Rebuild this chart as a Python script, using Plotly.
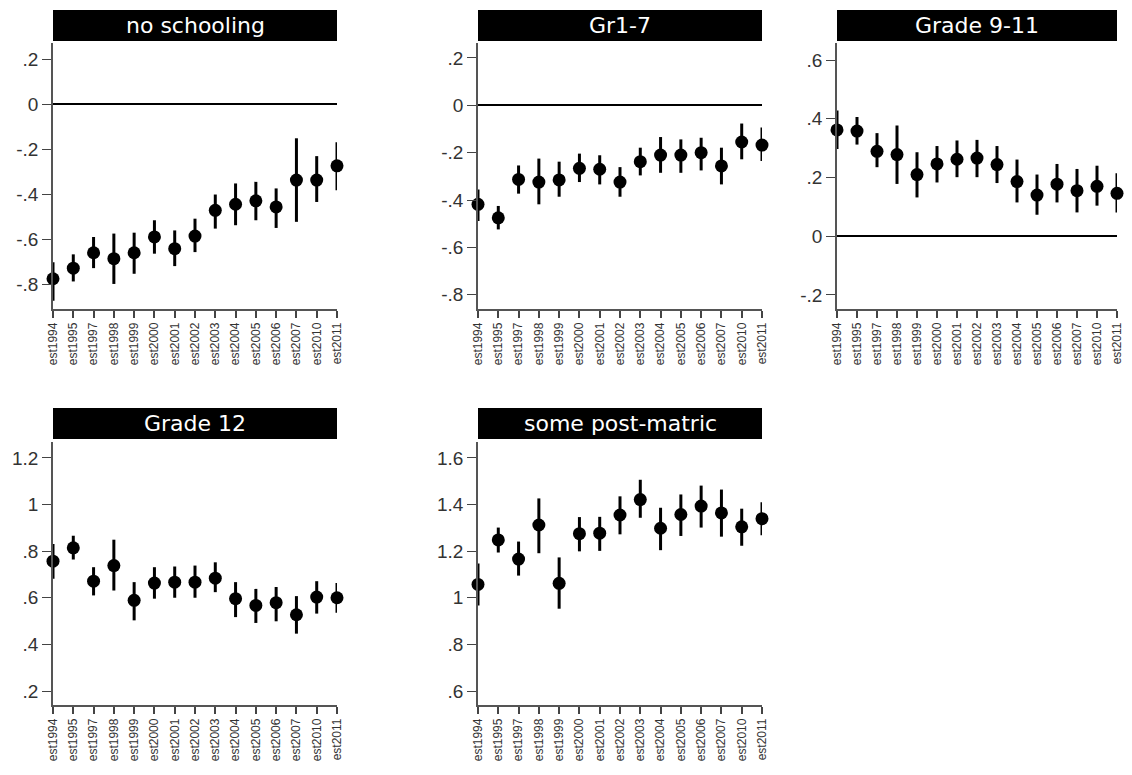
import plotly.graph_objects as go

# the page body has an 8px margin; the figure is sized to fit inside it
OFF = 8
W, H = 1132 - 2 * OFF, 775 - 2 * OFF

categories = ["est1994", "est1995", "est1997", "est1998", "est1999", "est2000", "est2001",
              "est2002", "est2003", "est2004", "est2005", "est2006", "est2007", "est2010", "est2011"]

panel_titles = ["no schooling", "Gr1-7", "Grade 9-11", "Grade 12", "some post-matric"]

# point estimates and confidence bounds
noschool_est = [-0.773, -0.726, -0.658, -0.684, -0.658, -0.588, -0.640, -0.584, -0.470, -0.443, -0.428, -0.455, -0.336, -0.336, -0.273]
noschool_lo  = [-0.870, -0.785, -0.726, -0.796, -0.751, -0.662, -0.717, -0.655, -0.551, -0.536, -0.514, -0.548, -0.521, -0.433, -0.381]
noschool_hi  = [-0.700, -0.665, -0.588, -0.573, -0.569, -0.514, -0.559, -0.507, -0.400, -0.351, -0.344, -0.373, -0.151, -0.230, -0.169]

gr17_est = [-0.418, -0.475, -0.313, -0.324, -0.315, -0.266, -0.270, -0.324, -0.238, -0.210, -0.210, -0.200, -0.256, -0.155, -0.168]
gr17_lo  = [-0.489, -0.524, -0.373, -0.418, -0.386, -0.324, -0.334, -0.386, -0.296, -0.285, -0.285, -0.275, -0.334, -0.228, -0.235]
gr17_hi  = [-0.355, -0.425, -0.254, -0.225, -0.238, -0.204, -0.211, -0.261, -0.179, -0.134, -0.144, -0.137, -0.179, -0.077, -0.094]

g911_est = [0.362, 0.358, 0.289, 0.278, 0.210, 0.246, 0.262, 0.266, 0.244, 0.186, 0.140, 0.177, 0.155, 0.170, 0.146]
g911_lo  = [0.297, 0.312, 0.235, 0.178, 0.132, 0.183, 0.201, 0.201, 0.181, 0.115, 0.073, 0.115, 0.081, 0.104, 0.081]
g911_hi  = [0.428, 0.406, 0.351, 0.377, 0.286, 0.307, 0.326, 0.328, 0.307, 0.261, 0.210, 0.246, 0.229, 0.240, 0.214]

g12_est = [0.757, 0.814, 0.671, 0.738, 0.589, 0.663, 0.667, 0.667, 0.684, 0.596, 0.567, 0.579, 0.527, 0.603, 0.600]
g12_lo  = [0.681, 0.764, 0.610, 0.631, 0.503, 0.596, 0.600, 0.600, 0.624, 0.517, 0.492, 0.499, 0.446, 0.532, 0.536]
g12_hi  = [0.831, 0.866, 0.731, 0.849, 0.667, 0.731, 0.734, 0.738, 0.752, 0.667, 0.638, 0.646, 0.607, 0.671, 0.663]

post_est = [1.057, 1.248, 1.166, 1.312, 1.062, 1.275, 1.277, 1.355, 1.421, 1.298, 1.357, 1.393, 1.364, 1.304, 1.339]
post_lo  = [0.967, 1.194, 1.095, 1.191, 0.953, 1.199, 1.201, 1.272, 1.343, 1.204, 1.265, 1.301, 1.262, 1.223, 1.268]
post_hi  = [1.147, 1.301, 1.241, 1.426, 1.173, 1.346, 1.347, 1.435, 1.506, 1.386, 1.443, 1.481, 1.464, 1.382, 1.410]

y_ranges = [[-0.907, 0.271], [-0.86, 0.263], [-0.248, 0.658], [0.14, 1.268], [0.54, 1.668]]
y_ticks = [
    ([0.2, 0, -0.2, -0.4, -0.6, -0.8], [".2", "0", "-.2", "-.4", "-.6", "-.8"]),
    ([0.2, 0, -0.2, -0.4, -0.6, -0.8], [".2", "0", "-.2", "-.4", "-.6", "-.8"]),
    ([0.6, 0.4, 0.2, 0, -0.2], [".6", ".4", ".2", "0", "-.2"]),
    ([1.2, 1.0, 0.8, 0.6, 0.4, 0.2], ["1.2", "1", ".8", ".6", ".4", ".2"]),
    ([1.6, 1.4, 1.2, 1.0, 0.8, 0.6], ["1.6", "1.4", "1.2", "1", ".8", ".6"]),
]

series = [
    (noschool_est, noschool_lo, noschool_hi),
    (gr17_est, gr17_lo, gr17_hi),
    (g911_est, g911_lo, g911_hi),
    (g12_est, g12_lo, g12_hi),
    (post_est, post_lo, post_hi),
]

# panel pixel boxes on the page: (x0, x1, plot_top, plot_bottom, title_top, title_bottom)
boxes = [
    (53, 337, 43, 309, 10, 41),
    (478, 762, 43, 309, 10, 41),
    (837, 1117, 43, 309, 10, 41),
    (53, 337, 442, 705, 408, 439),
    (478, 762, 442, 705, 408, 439),
]


def px(v):
    return (v - OFF) / W


def py(v):
    return 1 - (v - OFF) / H


fig = go.Figure()
layout = dict(
    width=W, height=H, showlegend=False,
    plot_bgcolor="white", paper_bgcolor="white",
    margin=dict(l=0, r=0, t=0, b=0, autoexpand=False),
    shapes=[], annotations=[],
)

for i, ((est, lo, hi), (x0, x1, t, b, tt, tb)) in enumerate(zip(series, boxes)):
    n = i + 1
    xa = "x" if n == 1 else f"x{n}"
    ya = "y" if n == 1 else f"y{n}"
    plus = [h - e for h, e in zip(hi, est)]
    minus = [e - l for e, l in zip(est, lo)]
    fig.add_trace(go.Scatter(
        x=categories, y=est, mode="markers", xaxis=xa, yaxis=ya,
        marker=dict(color="black", size=13, symbol="circle"),
        error_y=dict(type="data", symmetric=False, array=plus, arrayminus=minus,
                     color="black", thickness=3, width=0),
        cliponaxis=False,
    ))
    xkey = "xaxis" if n == 1 else f"xaxis{n}"
    ykey = "yaxis" if n == 1 else f"yaxis{n}"
    layout[xkey] = dict(
        domain=[px(x0), px(x1)], anchor=ya, type="category",
        categoryorder="array", categoryarray=categories,
        range=[0, len(categories) - 1],
        showgrid=False, zeroline=False, showline=True, linecolor="#555", linewidth=1.5,
        ticks="outside", ticklen=7, tickcolor="#444", tickwidth=1.5,
        tickangle=-90, automargin=False,
        tickfont=dict(family="Liberation Sans, Arial", size=12, color="#333"),
    )
    tv, tt_ = y_ticks[i]
    layout[ykey] = dict(
        domain=[py(b), py(t)], anchor=xa, range=y_ranges[i],
        tickvals=tv, ticktext=tt_, automargin=False,
        showgrid=False, zeroline=True, zerolinecolor="black", zerolinewidth=2,
        showline=True, linecolor="#555", linewidth=1.5,
        ticks="outside", ticklen=9, tickcolor="#444", tickwidth=1.2,
        tickfont=dict(family="Liberation Sans, Arial", size=19, color="#333"),
    )
    layout["shapes"].append(dict(
        type="rect", xref="paper", yref="paper",
        x0=px(x0), x1=px(x1), y0=py(tb), y1=py(tt),
        fillcolor="black", line=dict(color="black", width=0), layer="above",
    ))
    layout["annotations"].append(dict(
        text=panel_titles[i], xref="paper", yref="paper",
        x=px((x0 + x1) / 2), y=py((tt + tb) / 2),
        xanchor="center", yanchor="middle", showarrow=False,
        font=dict(family="DejaVu Sans, Liberation Sans", size=22, color="white"),
    ))

fig.update_layout(**layout)
fig.write_html("out.html")
